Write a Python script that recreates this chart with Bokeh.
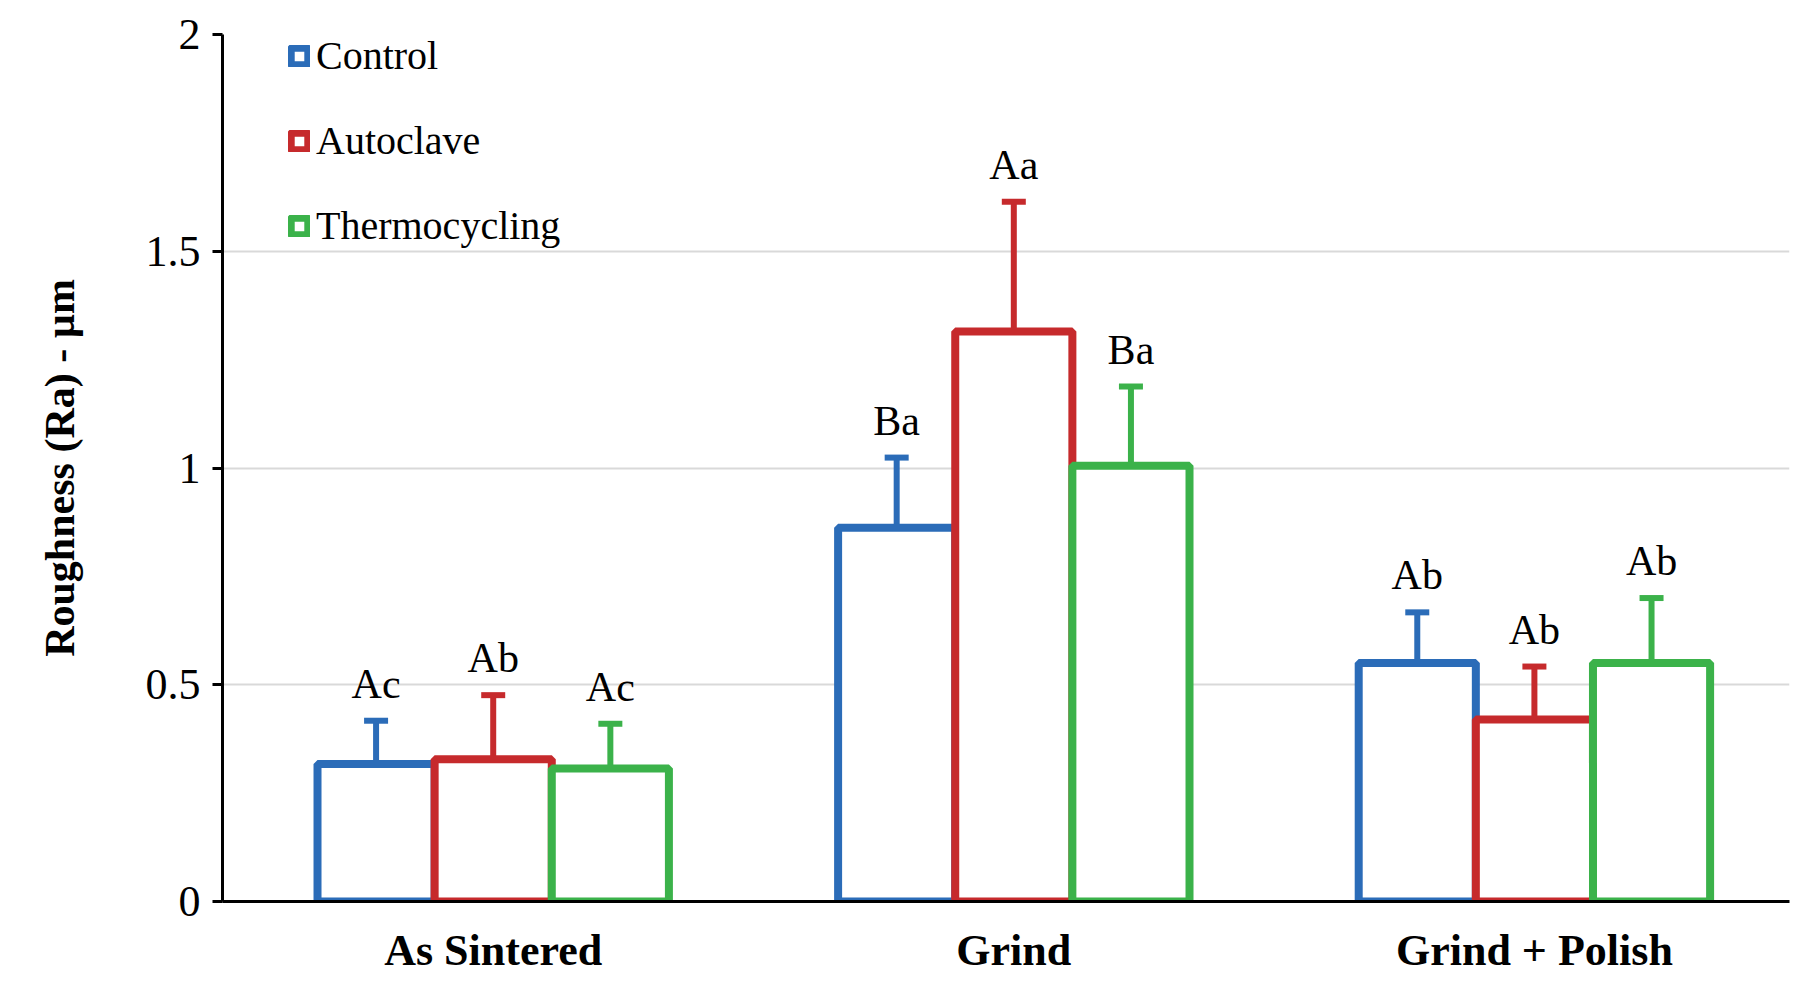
from bokeh.plotting import figure
from bokeh.models import (Range1d, FixedTicker, Whisker, TeeHead, ColumnDataSource,
                          Legend, LegendItem)
from bokeh.embed import file_html
from bokeh.resources import INLINE

categories = ["As Sintered", "Grind", "Grind + Polish"]
series = ["Control", "Autoclave", "Thermocycling"]
control = [0.317, 0.862, 0.550]
control_sd = [0.100, 0.162, 0.117]
autoclave = [0.328, 1.315, 0.420]
autoclave_sd = [0.148, 0.299, 0.122]
thermo = [0.307, 1.005, 0.550]
thermo_sd = [0.103, 0.183, 0.150]
control_lbl = ["Ac", "Ba", "Ab"]
autoclave_lbl = ["Ab", "Aa", "Ab"]
thermo_lbl = ["Ac", "Ba", "Ab"]
y_ticks = [0, 0.5, 1, 1.5, 2]

colors = ["#2b6cb8", "#c62a2c", "#3bb24a"]
FONT = "Liberation Serif"
bw = 0.225

p = figure(width=1790, height=980, output_backend="svg", toolbar_location=None,
           x_range=Range1d(-0.52, 2.49), y_range=Range1d(0, 2),
           min_border_left=222, min_border_top=34, min_border_bottom=79,
           min_border_right=1)
p.outline_line_color = None
p.background_fill_color = "white"

renderers = []
for i, (vals, sds, lbls, name) in enumerate([(control, control_sd, control_lbl, series[0]),
                                             (autoclave, autoclave_sd, autoclave_lbl, series[1]),
                                             (thermo, thermo_sd, thermo_lbl, series[2])]):
    xs = [k + (i - 1) * bw for k in range(len(categories))]
    upper = [v + s for v, s in zip(vals, sds)]
    src = ColumnDataSource(dict(x=xs, top=vals, upper=upper, lbl=lbls))
    w = Whisker(base="x", upper="upper", lower="top", source=src, dimension="height",
                line_color=colors[i], line_width=6,
                upper_head=TeeHead(size=24, line_color=colors[i], line_width=6),
                lower_head=None)
    p.add_layout(w)
    r = p.vbar(x="x", top="top", width=bw, source=src, fill_color="white",
               line_color=colors[i], line_width=8)
    renderers.append((name, r))
    p.text(x="x", y="upper", text="lbl", source=src, text_align="center",
           text_baseline="alphabetic", y_offset=-37, text_font=FONT,
           text_font_size="42px", text_color="black")

legend = Legend(items=[LegendItem(label=n, renderers=[r]) for n, r in renderers],
                location=(66, 652), glyph_width=22, glyph_height=22,
                label_text_font=FONT, label_text_font_size="40px",
                label_text_color="black", spacing=38, padding=6,
                background_fill_alpha=0, border_line_color=None, label_standoff=6)
p.add_layout(legend)

p.xgrid.grid_line_color = None
p.ygrid.grid_line_color = "#d9d9d9"
p.ygrid.grid_line_width = 2
p.ygrid.ticker = FixedTicker(ticks=y_ticks)

p.yaxis.ticker = FixedTicker(ticks=y_ticks)
p.yaxis.major_label_overrides = {t: ("%g" % t) for t in y_ticks}
p.yaxis.minor_tick_line_color = None
p.yaxis.major_tick_in = 0
p.yaxis.major_tick_out = 10
p.yaxis.major_tick_line_width = 3
p.yaxis.major_tick_line_color = "black"
p.yaxis.axis_line_width = 3
p.yaxis.axis_line_color = "black"
p.yaxis.major_label_text_font = FONT
p.yaxis.major_label_text_font_size = "44px"
p.yaxis.major_label_text_color = "black"
p.yaxis.major_label_standoff = 12
p.yaxis.axis_label = "Roughness (Ra) - \u00b5m"
p.yaxis.axis_label_text_font = FONT
p.yaxis.axis_label_text_font_size = "42px"
p.yaxis.axis_label_text_font_style = "bold"
p.yaxis.axis_label_text_color = "black"
p.yaxis.axis_label_standoff = 60

p.xaxis.ticker = FixedTicker(ticks=list(range(len(categories))))
p.xaxis.major_label_overrides = {k: c for k, c in enumerate(categories)}
p.xaxis.major_tick_line_color = None
p.xaxis.minor_tick_line_color = None
p.xaxis.axis_line_width = 3
p.xaxis.axis_line_color = "black"
p.xaxis.major_label_text_font = FONT
p.xaxis.major_label_text_font_size = "44px"
p.xaxis.major_label_text_font_style = "bold"
p.xaxis.major_label_text_color = "black"
p.xaxis.major_label_standoff = 18

open("out.html", "w").write(file_html(p, INLINE))
